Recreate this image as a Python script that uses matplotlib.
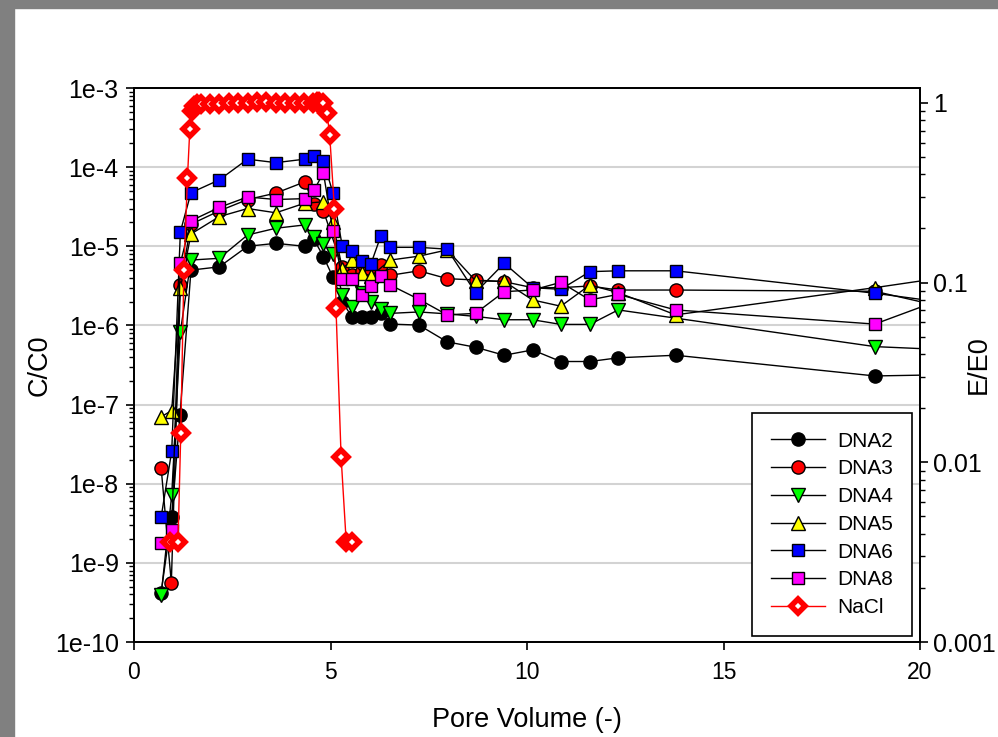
import matplotlib
matplotlib.use('Agg')
import matplotlib.pyplot as plt
from matplotlib.ticker import FixedLocator, LogLocator, NullFormatter, FixedFormatter
from matplotlib.patches import Rectangle

plt.rcParams['font.family'] = ['Liberation Sans', 'DejaVu Sans']

# ---------------- data ----------------
dna2_x = [0.69, 0.96, 1.17, 1.45, 2.17, 2.89, 3.61, 4.34, 4.58, 4.82, 5.06, 5.30, 5.55, 5.80, 6.03, 6.28, 6.52,
          7.25, 7.97, 8.69, 9.42, 10.14, 10.86, 11.60, 12.32, 13.78, 18.85, 21.0]
dna2_y = [4.2e-10, 3.8e-9, 7.4e-8, 5.0e-6, 5.5e-6, 1.0e-5, 1.09e-5, 1.0e-5, 1.22e-5, 7.4e-6, 4.1e-6, 2.0e-6,
          1.27e-6, 1.27e-6, 1.27e-6, 1.45e-6, 1.04e-6, 1.01e-6, 6.2e-7, 5.3e-7, 4.2e-7, 4.9e-7, 3.5e-7, 3.5e-7,
          3.9e-7, 4.2e-7, 2.3e-7, 2.4e-7]

dna3_x = [0.69, 0.95, 1.18, 1.45, 2.17, 2.89, 3.61, 4.34, 4.58, 4.82, 5.30, 5.55, 5.80, 6.03, 6.28, 6.52,
          7.25, 7.97, 8.69, 9.42, 10.14, 10.86, 11.60, 12.32, 13.78, 18.85, 21.0]
dna3_y = [1.6e-8, 5.6e-10, 3.24e-6, 1.9e-5, 2.8e-5, 3.9e-5, 4.7e-5, 6.5e-5, 3.4e-5, 2.8e-5, 5.5e-6, 4.3e-6,
          4.9e-6, 4.6e-6, 5.8e-6, 4.3e-6, 4.9e-6, 3.9e-6, 3.75e-6, 3.57e-6, 3.0e-6, 3.0e-6, 3.15e-6, 2.8e-6,
          2.8e-6, 2.7e-6, 1.54e-6]

dna4_x = [0.69, 0.96, 1.18, 1.45, 2.17, 2.89, 3.61, 4.34, 4.58, 4.82, 5.06, 5.30, 5.55, 5.80, 6.03, 6.28, 6.52,
          7.25, 7.97, 8.69, 9.42, 10.14, 10.86, 11.60, 12.32, 18.85, 21.0]
dna4_y = [3.9e-10, 7.2e-9, 8.3e-7, 6.7e-6, 7.05e-6, 1.39e-5, 1.69e-5, 1.86e-5, 1.32e-5, 1.07e-5, 8.1e-6,
          2.42e-6, 1.69e-6, 2.55e-6, 2.0e-6, 1.6e-6, 1.42e-6, 1.48e-6, 1.4e-6, 1.3e-6, 1.18e-6, 1.18e-6,
          1.03e-6, 1.03e-6, 1.57e-6, 5.4e-7, 4.85e-7]

dna5_x = [0.69, 0.96, 1.18, 1.45, 2.17, 2.89, 3.61, 4.34, 4.82, 5.06, 5.30, 5.55, 5.80, 6.03, 6.52,
          7.25, 7.97, 8.69, 9.42, 10.14, 10.86, 11.60, 12.32, 13.78, 18.85, 21.0]
dna5_y = [7.0e-8, 8.4e-8, 2.95e-6, 1.43e-5, 2.37e-5, 3.0e-5, 2.65e-5, 3.5e-5, 3.65e-5, 2.0e-5, 5.2e-6,
          6.7e-6, 4.6e-6, 4.2e-6, 6.7e-6, 7.5e-6, 9.0e-6, 3.67e-6, 3.6e-6, 2.1e-6, 1.75e-6, 3.24e-6, 2.6e-6,
          1.36e-6, 3.0e-6, 4.3e-6]

dna6_x = [0.69, 0.96, 1.18, 1.45, 2.17, 2.89, 3.61, 4.34, 4.58, 4.82, 5.06, 5.30, 5.55, 5.80, 6.03, 6.28, 6.52,
          7.25, 7.97, 8.69, 9.42, 10.14, 10.86, 11.60, 12.32, 13.78, 18.85, 21.0]
dna6_y = [3.76e-9, 2.6e-8, 1.53e-5, 4.75e-5, 6.9e-5, 1.26e-4, 1.14e-4, 1.26e-4, 1.38e-4, 1.2e-4, 4.75e-5,
          1.0e-5, 8.8e-6, 6.6e-6, 6.0e-6, 1.35e-5, 9.7e-6, 9.7e-6, 9.2e-6, 2.6e-6, 6.1e-6, 3.0e-6, 2.86e-6,
          4.78e-6, 4.9e-6, 4.9e-6, 2.55e-6, 1.84e-6]

dna8_x = [0.69, 0.96, 1.18, 1.45, 2.17, 2.89, 3.61, 4.34, 4.58, 4.82, 5.06, 5.30, 5.55, 5.80, 6.03, 6.28, 6.52,
          7.25, 7.97, 8.69, 9.42, 10.14, 10.86, 11.60, 12.32, 13.78, 18.85, 21.0]
dna8_y = [1.77e-9, 2.6e-9, 6.1e-6, 2.1e-5, 3.1e-5, 4.2e-5, 3.9e-5, 4.0e-5, 5.1e-5, 8.5e-5, 1.57e-5, 3.9e-6,
          3.83e-6, 2.42e-6, 3.15e-6, 4.2e-6, 3.24e-6, 2.14e-6, 1.36e-6, 1.42e-6, 2.67e-6, 2.8e-6, 3.5e-6,
          2.1e-6, 2.47e-6, 1.57e-6, 1.04e-6, 2.58e-6]

nacl_x = [0.91, 1.12, 1.19, 1.27, 1.36, 1.42, 1.47, 1.52, 1.60, 1.71, 1.93, 2.17, 2.41, 2.65, 2.89, 3.13,
          3.37, 3.61, 3.85, 4.09, 4.33, 4.55, 4.65, 4.72, 4.82, 4.91, 4.98, 5.10, 5.14, 5.27, 5.40, 5.55]
nacl_y = [0.0036, 0.0036, 0.0145, 0.118, 0.381, 0.714, 0.906, 0.96, 0.98, 0.98, 0.99, 0.99, 1.0, 1.0, 1.0,
          1.01, 1.01, 1.0, 1.0, 1.0, 1.0, 1.0, 1.01, 1.01, 1.0, 0.88, 0.66, 0.256, 0.072, 0.0107, 0.0036, 0.0036]

series = [
    ("DNA2", dna2_x, dna2_y, 'o', 'black', 9.5),
    ("DNA3", dna3_x, dna3_y, 'o', 'red', 9.5),
    ("DNA4", dna4_x, dna4_y, 'v', 'lime', 10.5),
    ("DNA5", dna5_x, dna5_y, '^', 'yellow', 10.5),
    ("DNA6", dna6_x, dna6_y, 's', 'blue', 9.0),
    ("DNA8", dna8_x, dna8_y, 's', 'magenta', 9.0),
]

left_ticks = [1e-10, 1e-9, 1e-8, 1e-7, 1e-6, 1e-5, 1e-4, 1e-3]
left_labels = ["1e-10", "1e-9", "1e-8", "1e-7", "1e-6", "1e-5", "1e-4", "1e-3"]
right_ticks = [0.001, 0.01, 0.1, 1]
right_labels = ["0.001", "0.01", "0.1", "1"]
x_ticks = [0, 5, 10, 15, 20]

# ---------------- figure ----------------
fig = plt.figure(figsize=(9.98, 7.37), dpi=100)
fig.patches.append(Rectangle((0, 0), 14 / 998, 1, transform=fig.transFigure, color='#808080', zorder=0))
fig.patches.append(Rectangle((0, 1 - 8 / 737), 1, 8 / 737, transform=fig.transFigure, color='#808080', zorder=0))

ax = fig.add_axes([134 / 998, 1 - 642 / 737, (920 - 134) / 998, (642 - 88) / 737])
ax.set_yscale('log')
ax.set_xlim(0, 20)
ax.set_ylim(1e-10, 1e-3)

handles = []
for name, xs, ys, mk, col, ms in series:
    h, = ax.plot(xs, ys, color='black', lw=1.0, marker=mk, markersize=ms, markerfacecolor=col,
                 markeredgecolor='black', markeredgewidth=1.0, label=name, clip_on=True)
    handles.append(h)

ax.yaxis.set_major_locator(FixedLocator(left_ticks))
ax.yaxis.set_major_formatter(FixedFormatter(left_labels))
ax.yaxis.set_minor_locator(LogLocator(base=10, subs=range(2, 10), numticks=20))
ax.yaxis.set_minor_formatter(NullFormatter())
ax.set_xticks(x_ticks)
ax.set_xticklabels([str(v) for v in x_ticks])
ax.grid(axis='y', which='major', color='#d3d3d3', lw=1.5)
ax.set_axisbelow(True)
ax.tick_params(axis='both', which='major', direction='out', length=6, width=1.2)
ax.tick_params(axis='x', labelsize=16.5, pad=8)
ax.tick_params(axis='y', labelsize=18, pad=5)
ax.tick_params(axis='y', which='minor', direction='out', length=3.5, width=1.0)
ax.tick_params(axis='x', which='minor', bottom=False)
for sp in ax.spines.values():
    sp.set_linewidth(1.3)

ax.set_xlabel("Pore Volume (-)", fontsize=19.5)
ax.xaxis.set_label_coords(0.5, -0.118)
ax.set_ylabel("C/C0", fontsize=19.5)
ax.yaxis.set_label_coords(-0.104, 0.5)

ax2 = ax.twinx()
ax2.set_yscale('log')
ax2.set_ylim(0.001, 1.21)
ax2.set_xlim(0, 20)
hn, = ax2.plot(nacl_x, nacl_y, color='red', lw=1.0, marker='D', markersize=7.5, markerfacecolor='white',
               markeredgecolor='red', markeredgewidth=4.0, label='NaCl')
handles.append(hn)
ax2.yaxis.set_major_locator(FixedLocator(right_ticks))
ax2.yaxis.set_major_formatter(FixedFormatter(right_labels))
ax2.yaxis.set_minor_locator(LogLocator(base=10, subs=range(2, 10), numticks=20))
ax2.yaxis.set_minor_formatter(NullFormatter())
ax2.tick_params(axis='y', which='major', direction='out', length=6, width=1.2, labelsize=18)
ax2.tick_params(axis='y', which='minor', direction='out', length=3.5, width=1.0)
ax2.set_ylabel("E/E0", fontsize=19.5)
ax2.yaxis.set_label_coords(1.058, 0.5)
for sp in ax2.spines.values():
    sp.set_linewidth(1.3)

leg = ax2.legend(handles=handles, loc='lower right', bbox_to_anchor=(0.99, 0.011), fontsize=15,
                 frameon=True, fancybox=False, edgecolor='black', framealpha=1, handlelength=2.6,
                 handletextpad=0.6, labelspacing=0.42, borderpad=0.9, borderaxespad=0)
leg.get_frame().set_linewidth(1.2)

fig.savefig("out.png", dpi=100, facecolor='white')
